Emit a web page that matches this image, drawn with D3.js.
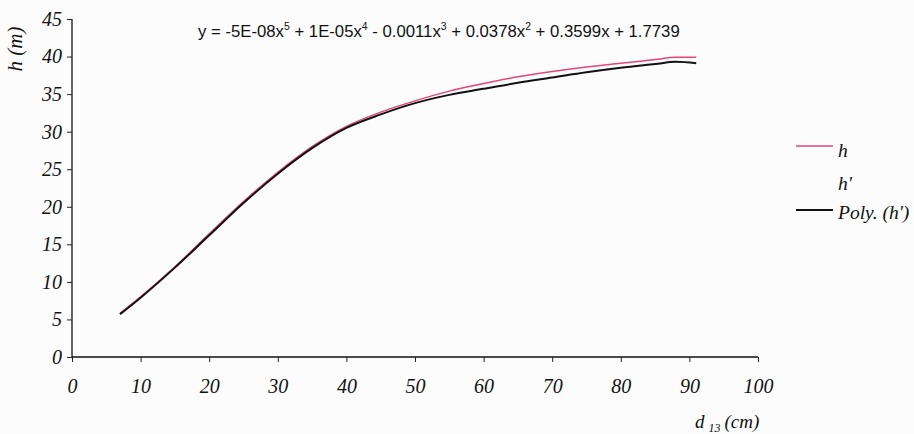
<!DOCTYPE html>
<html>
<head>
<meta charset="utf-8">
<script src="https://cdn.jsdelivr.net/npm/d3@7"></script>
<style>
  html, body { margin: 0; padding: 0; background: #fcfcfc; }
  svg { display: block; }
</style>
</head>
<body>
<svg id="chart" width="914" height="434"></svg>
<script>
// ---- data ----
const diameters = [7, 10, 15, 20, 25, 30, 35, 40, 45, 50, 55, 60, 65, 70, 75, 80, 85, 88, 91];
const heightH   = [5.8, 8.0, 12.0, 16.4, 20.7, 24.6, 28.0, 30.7, 32.6, 34.1, 35.4, 36.4, 37.3, 38.0, 38.6, 39.1, 39.6, 39.9, 39.9];
const heightPoly= [5.7, 7.9, 11.9, 16.2, 20.5, 24.4, 27.8, 30.5, 32.3, 33.8, 34.9, 35.7, 36.5, 37.2, 37.9, 38.5, 39.0, 39.3, 39.1];
const xTicks = [0, 10, 20, 30, 40, 50, 60, 70, 80, 90, 100];
const yTicks = [0, 5, 10, 15, 20, 25, 30, 35, 40, 45];
const legendLabels = ["h", "h'", "Poly. (h')"];
const equationParts = [
  ["y = -5E-08x", "5"], [" + 1E-05x", "4"], [" - 0.0011x", "3"], [" + 0.0378x", "2"], [" + 0.3599x + 1.7739", null]
];

const svg = d3.select("#chart");
const SERIF = '"Liberation Serif"';
const serifText = (sel, size) => sel.style("font-family", SERIF).style("font-style", "italic")
  .style("font-size", size + "px").attr("fill", "#111");

const x = d3.scaleLinear().domain([0, 100]).range([72, 758]);
const y = d3.scaleLinear().domain([0, 45]).range([357, 19]);

// axes
const xAxis = svg.append("g").attr("transform", `translate(0,${y(0)})`)
  .call(d3.axisBottom(x).tickValues(xTicks).tickSize(5).tickPadding(17).tickFormat(d3.format("d")));
const yAxis = svg.append("g").attr("transform", `translate(${x(0)},0)`)
  .call(d3.axisLeft(y).tickValues(yTicks).tickSize(5).tickPadding(5).tickFormat(d3.format("d")));

[xAxis, yAxis].forEach(a => {
  a.attr("font-family", null).attr("font-size", null);
  a.select(".domain").attr("stroke", "#111").attr("stroke-width", 1.3);
  a.selectAll(".tick line").attr("stroke", "#222").attr("stroke-width", 1);
  a.selectAll(".tick text").call(serifText, 20);
});
xAxis.select(".domain").attr("d", `M${x(0)},0H${x(100)}`);
yAxis.select(".domain").attr("d", `M0,${y(45)}V${y(0)}`);

// lines
const line = vals => d3.line().x((d, i) => x(diameters[i])).y(d => y(d)).curve(d3.curveMonotoneX)(vals);
svg.append("path").attr("d", line(heightH)).attr("fill", "none")
  .attr("stroke", "#e2457c").attr("stroke-width", 1.5);
svg.append("path").attr("d", line(heightPoly)).attr("fill", "none")
  .attr("stroke", "#111").attr("stroke-width", 2);

// equation
const eqG = svg.append("g");
const eq = eqG.append("text").style("font-family", '"Liberation Sans"')
  .style("font-size", "16px").attr("fill", "#111");
let pendingDy = 0;
equationParts.forEach(([t, sup]) => {
  eq.append("tspan").attr("dy", pendingDy).text(t);
  pendingDy = 0;
  if (sup) {
    eq.append("tspan").style("font-size", "10px").attr("dy", -7).text(sup);
    pendingDy = 7;
  }
});
const eqW = eq.node().getComputedTextLength();
eqG.attr("transform", `translate(198,37) scale(${482 / eqW},1)`);

// axis titles
svg.append("text").attr("transform", "translate(22,49) rotate(-90)")
  .attr("text-anchor", "middle").call(serifText, 21).text("h (m)");

const xt = svg.append("text").attr("x", 695).attr("y", 428).call(serifText, 19);
xt.append("tspan").text("d");
xt.append("tspan").attr("dx", 4).attr("dy", 4).style("font-size", "12px").text("13");
xt.append("tspan").attr("dx", 4).attr("dy", -4).text("(cm)");

// legend
const legendY = [151, 184, 215];
const legendColors = ["#e2457c", null, "#111"];
legendLabels.forEach((lab, i) => {
  if (legendColors[i]) {
    svg.append("line").attr("x1", 796).attr("x2", 833)
      .attr("y1", legendY[i] - 5).attr("y2", legendY[i] - 5)
      .attr("stroke", legendColors[i]).attr("stroke-width", i === 0 ? 1.5 : 2);
  }
  svg.append("text").attr("x", 838).attr("y", legendY[i] + (i === 2 ? 4 : 6))
    .call(serifText, 19.5).text(lab);
});
</script>
</body>
</html>
